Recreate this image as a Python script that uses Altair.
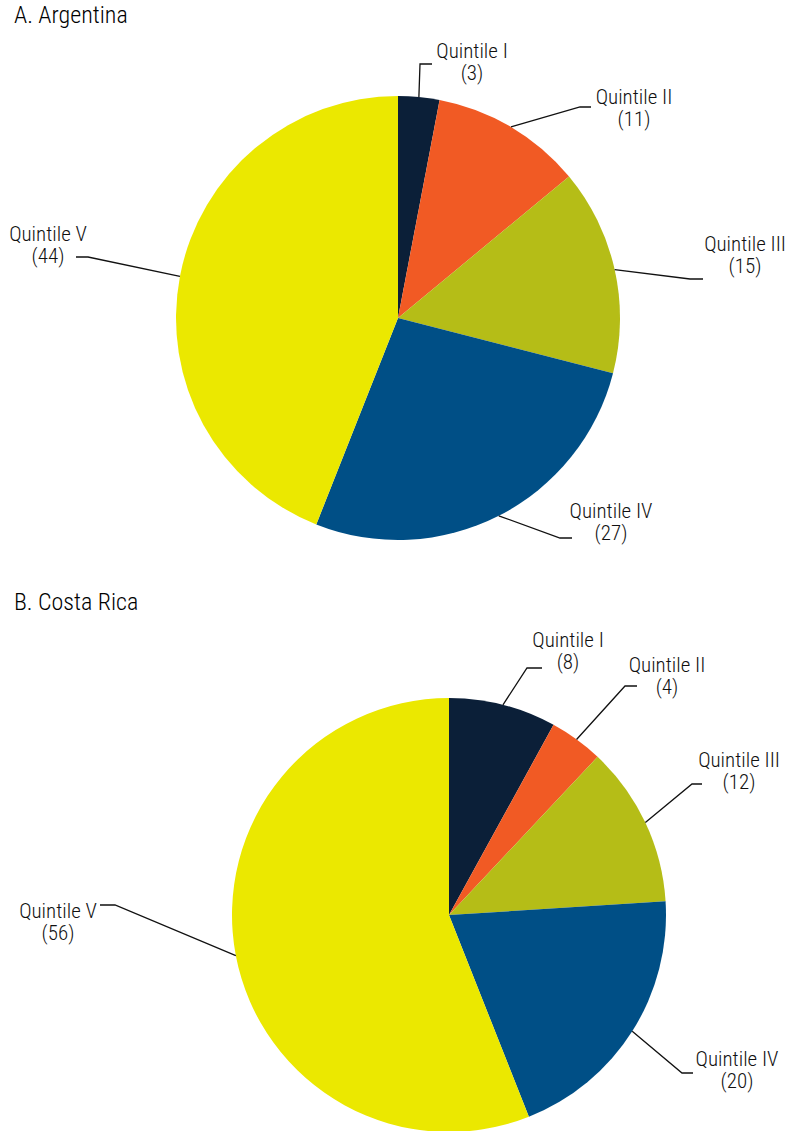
import math
import altair as alt
import pandas as pd

# Income quintile shares (percent of total)
quintiles = ["Quintile I", "Quintile II", "Quintile III", "Quintile IV", "Quintile V"]
argentina = [3, 11, 15, 27, 44]
costa_rica = [8, 4, 12, 20, 56]

colors = ["#0b1f38", "#f15a24", "#b5bd17", "#004f86", "#ebe800"]

W, H = 788, 1131
FONT = "Roboto Condensed, Liberation Sans Narrow, DejaVu Sans Condensed, Roboto, sans-serif"

# Page layout for each panel: pie centre/radius, title anchor, leader elbows/ends,
# and the centre of each label's first line
panels = [
    {
        "title": "A. Argentina", "values": argentina,
        "cx": 398, "cy": 318, "r": 222, "title_xy": (14, 4),
        "elbow": [(420, 64), (580, 107), (690, 279), (560, 538), (88, 257)],
        "end":   [(432, 64), (591, 107), (703, 279), (572, 538), (76, 257)],
        "label": [(472, 52), (634, 98), (745, 245), (611, 512), (48, 235)],
    },
    {
        "title": "B. Costa Rica", "values": costa_rica,
        "cx": 449, "cy": 915, "r": 217, "title_xy": (14, 591),
        "elbow": [(527, 668), (625, 686), (692, 784), (682, 1073), (115, 905)],
        "end":   [(542, 668), (637, 686), (702, 784), (693, 1073), (100, 905)],
        "label": [(568, 641), (667, 666), (739, 761), (737, 1060), (58, 912)],
    },
]

xs = alt.Scale(domain=[0, W], range=[0, W])
ys = alt.Scale(domain=[0, H], range=[0, H])
color_scale = alt.Scale(domain=quintiles, range=colors)

layers = []
for p in panels:
    vals = p["values"]
    total = sum(vals)
    slices = pd.DataFrame({"quintile": quintiles, "value": vals, "rank": range(len(vals))})

    pie = alt.Chart(slices).mark_arc(radius=p["r"], stroke=None).encode(
        theta=alt.Theta("value:Q", stack=True,
                        scale=alt.Scale(domain=[0, total], range=[0, 2 * math.pi])),
        color=alt.Color("quintile:N", scale=color_scale, legend=None),
        order=alt.Order("rank:Q"),
        x=alt.value(p["cx"]),
        y=alt.value(p["cy"]),
    )
    layers.append(pie)

    # Leader lines: start on the rim at each slice's mid-angle, bend at an elbow, end by the label
    rows = []
    cum = 0
    for i, v in enumerate(vals):
        mid = (cum + v / 2) / total * 2 * math.pi
        cum += v
        sx = p["cx"] + p["r"] * math.sin(mid)
        sy = p["cy"] - p["r"] * math.cos(mid)
        pts = [(sx, sy), p["elbow"][i], p["end"][i]]
        for k, (px, py) in enumerate(pts):
            rows.append({"quintile": quintiles[i], "k": k, "px": px, "py": py})
    leaders = alt.Chart(pd.DataFrame(rows)).mark_line(color="#111111", strokeWidth=1.3).encode(
        x=alt.X("px:Q", scale=xs, axis=None),
        y=alt.Y("py:Q", scale=ys, axis=None),
        detail="quintile:N",
        order="k:Q",
    )
    layers.append(leaders)

    labels = pd.DataFrame({
        "txt": [f"{q}\n({v})" for q, v in zip(quintiles, vals)],
        "lx": [xy[0] for xy in p["label"]],
        "ly": [xy[1] for xy in p["label"]],
    })
    text = alt.Chart(labels).mark_text(
        font=FONT, fontSize=21, fontWeight=300, color="#111111", align="center",
        baseline="middle", lineBreak="\n", lineHeight=22,
    ).encode(
        x=alt.X("lx:Q", scale=xs, axis=None),
        y=alt.Y("ly:Q", scale=ys, axis=None),
        text="txt:N",
    )
    layers.append(text)

    title = alt.Chart(pd.DataFrame({
        "t": [p["title"]], "tx": [p["title_xy"][0]], "ty": [p["title_xy"][1]],
    })).mark_text(
        font=FONT, fontSize=24, fontWeight=300, color="#000000", align="left", baseline="top",
    ).encode(
        x=alt.X("tx:Q", scale=xs, axis=None),
        y=alt.Y("ty:Q", scale=ys, axis=None),
        text="t:N",
    )
    layers.append(title)

chart = alt.layer(*layers).properties(
    width=W, height=H, autosize=alt.AutoSizeParams(type="none"), padding=0,
).configure_view(stroke=None)

chart.save("out.html", embed_options={"renderer": "svg", "actions": False})
